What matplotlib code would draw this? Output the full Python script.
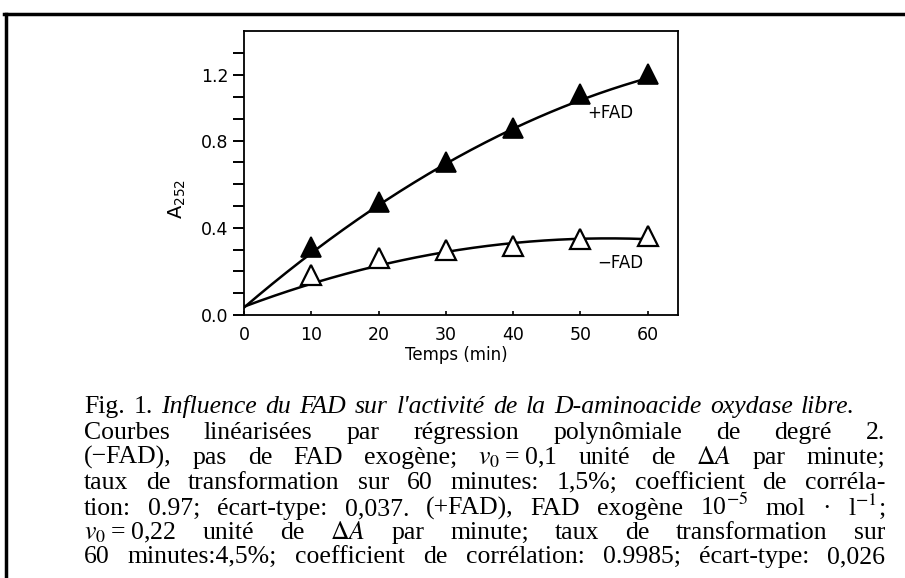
import numpy as np
import matplotlib
matplotlib.use("Agg")
import matplotlib.pyplot as plt
from matplotlib.lines import Line2D

# --- data (y in axis tick units, 0.1 per minor tick) ---
time_min = [10, 20, 30, 40, 50, 60]
plus_fad = [0.313, 0.520, 0.703, 0.858, 1.013, 1.105]
minus_fad = [0.183, 0.263, 0.297, 0.317, 0.347, 0.364]

# regression curves (degree 2) as drawn in the figure, read at 0..60 min
fit_time = [0, 10, 20, 30, 40, 50, 60]
plus_fit = [0.038, 0.284, 0.497, 0.680, 0.876, 0.986, 1.081]
minus_fit = [0.038, 0.142, 0.232, 0.284, 0.330, 0.352, 0.347]

x_ticks = [0, 10, 20, 30, 40, 50, 60]
# the original puts its "1.2" label on the 11th minor tick
y_tick_pos = [0.0, 0.4, 0.8, 1.1]
y_tick_labels = ["0.0", "0.4", "0.8", "1.2"]

caption = [
    [("Fig.", "normal"), ("1.", "normal"), ("Influence", "italic"), ("du", "italic"),
     ("FAD", "italic"), ("sur", "italic"), ("l'activité", "italic"), ("de", "italic"),
     ("la", "italic"), ("D-aminoacide", "italic"), ("oxydase", "italic"), ("libre.", "italic")],
    "Courbes linéarisées par régression polynômiale de degré 2.",
    "(−FAD), pas de FAD exogène; $v_0$\u2009=\u20090,1 unité de $\\Delta{A}$ par minute;",
    "taux de transformation sur 60 minutes: 1,5%; coefficient de corréla-",
    "tion: 0.97; écart-type: 0,037. (+FAD), FAD exogène 10$^{-5}$ mol · l$^{-1}$;",
    "$v_0$\u2009=\u20090,22 unité de $\\Delta{A}$ par minute; taux de transformation sur",
    "60 minutes:4,5%; coefficient de corrélation: 0.9985; écart-type: 0,026",
]

W, H = 905, 578
plt.rcParams["mathtext.fontset"] = "stix"
fig = plt.figure(figsize=(W / 100, H / 100), dpi=100)
fig.patch.set_facecolor("white")

ax = fig.add_axes([244 / W, 1 - 315 / H, (678 - 244) / W, (315 - 31) / H])

xs = np.linspace(0, 60, 200)
for vals in (plus_fit, minus_fit):
    coef = np.polyfit(fit_time, vals, 2)
    ax.plot(xs, np.polyval(coef, xs), color="black", lw=1.8, zorder=2)

ax.plot(time_min, plus_fad, ls="none", marker="^", ms=15, mfc="black",
        mec="black", mew=1.2, zorder=3)
ax.plot(time_min, minus_fad, ls="none", marker="^", ms=15, mfc="white",
        mec="black", mew=1.6, zorder=3)

ax.text(54.4, 0.927, "+FAD", fontsize=12, ha="center", va="center")
ax.text(55.9, 0.239, "−FAD", fontsize=12, ha="center", va="center")

ax.set_xlim(0, 64.5)
ax.set_ylim(0, 1.303)
ax.set_xticks(x_ticks)
ax.set_xticklabels([str(v) for v in x_ticks])
ax.set_yticks(y_tick_pos)
ax.set_yticklabels(y_tick_labels)
ax.set_yticks(np.arange(0, 1.25, 0.1), minor=True)
ax.tick_params(axis="y", which="both", direction="out", length=8, width=1.4,
               labelsize=12.5, pad=3)
ax.tick_params(axis="x", which="both", direction="in", length=3, width=1.2,
               labelsize=12.5, pad=8)
for sp in ax.spines.values():
    sp.set_linewidth(1.3)

ax.set_xlabel("Temps (min)", fontsize=12)
ax.xaxis.set_label_coords(0.49, -0.11)
ax.set_ylabel(r"$\mathregular{A_{252}}$", fontsize=14)
ax.yaxis.set_label_coords(-0.13, 0.41)

# frame around the figure (cut at the right/bottom in the scan)
fig.add_artist(Line2D([4 / W, 1], [1 - 14 / H] * 2, transform=fig.transFigure,
                      color="black", lw=2.5))
fig.add_artist(Line2D([6 / W] * 2, [0, 1 - 14 / H], transform=fig.transFigure,
                      color="black", lw=2.5))

# caption, justified line by line
renderer = fig.canvas.get_renderer()
baselines = [413, 439, 464, 489, 515, 539, 563]
right_edges = [855, 885, 885, 885, 885, 885, 885]
x_left = 84
for line, yb, xr in zip(caption, baselines, right_edges):
    if isinstance(line, str):
        tokens = [(w, "normal") for w in line.split(" ")]
    else:
        tokens = line
    texts = []
    for word, style in tokens:
        t = fig.text(0, 1 - yb / H, word, fontsize=18.5, family="Liberation Serif",
                     style=style, va="baseline", ha="left")
        texts.append(t)
    widths = [t.get_window_extent(renderer).width for t in texts]
    gap = (xr - x_left - sum(widths)) / max(len(texts) - 1, 1)
    gap = max(gap, 3)
    x = x_left
    for t, w in zip(texts, widths):
        t.set_x(x / W)
        x += w + gap

fig.savefig("out.png", dpi=100)
